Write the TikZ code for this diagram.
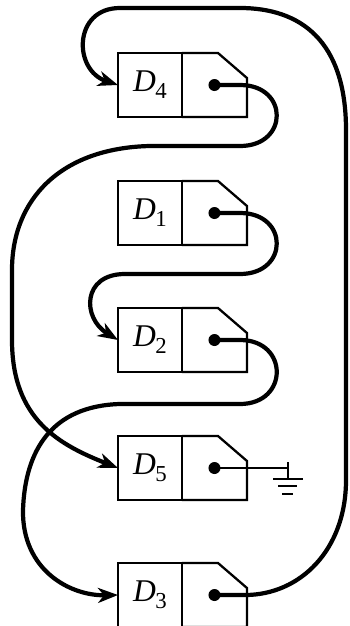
\documentclass[tikz,border=0pt]{standalone}
\usepackage{fontspec}
\setmainfont{Liberation Serif}
\usetikzlibrary{arrows.meta, positioning}

\tikzset{
  boxline/.style={line width=1.3pt},
  datafield/.style={draw, boxline, rectangle, minimum width=1.28cm, minimum height=1.28cm,
    inner sep=0pt, outer sep=0pt, font=\fontsize{18}{20}\selectfont},
  ptrfield/.style={rectangle, minimum width=1.3cm, minimum height=1.28cm, inner sep=0pt, outer sep=0pt},
  dot/.style={circle, fill, inner sep=0pt, minimum size=0.24cm},
  link/.style={line width=2.4pt, -{Stealth[length=0.4cm, width=0.3cm, inset=0.12cm]}},
  lastlink/.style={line width=1.2pt}
}
\newcommand{\dlabel}[1]{\textit{D}\kern-0.02em\raisebox{-0.5ex}{\fontsize{13}{13}\selectfont #1}}

\begin{document}
\begin{tikzpicture}[x=0.02cm, y=-0.02cm]
  \useasboundingbox (0,0) rectangle (349,626);

  % records of the list
  \foreach \n/\y in {4/85, 1/213, 2/340, 5/468, 3/595} {
    \node[datafield] (d\n) at (150,\y) {\dlabel{\n}};
    \node[ptrfield, right=0pt of d\n] (p\n) {};
    \draw[boxline] (p\n.north west) -- ([xshift=-0.58cm]p\n.north east)
      -- ([yshift=-0.5cm]p\n.north east) -- (p\n.south east) -- (p\n.south west);
    \node[dot] (c\n) at (p\n.center) {};
  }

  % pointers
  \draw[link] (c1.center) -- (240,213) .. controls (289,213) and (289,274) .. (240,274)
    -- (125,274) .. controls (82,274) and (82,318) .. (d2.west);
  \draw[link] (c2.center) -- (240,340) .. controls (289,340) and (289,404) .. (240,404)
    -- (120,404) .. controls (52,406) and (25,450) .. (23,510)
    .. controls (22,570) and (70,596) .. (d3.west);
  \draw[link] (c3.center) -- (245,595) .. controls (300,595) and (346,550) .. (346,480)
    -- (346,130) .. controls (346,40) and (300,8) .. (240,8)
    -- (120,8) .. controls (73,8) and (73,70) .. (d4.west);
  \draw[link] (c4.center) -- (240,85) .. controls (289,85) and (289,146) .. (240,146)
    -- (150,146) .. controls (60,148) and (12,200) .. (12,270)
    -- (12,340) .. controls (12,420) and (60,445) .. (d5.west);

  % null pointer
  \coordinate (gnd) at (288,468);
  \draw[lastlink] (c5.center) -- (gnd);
  \draw[line width=1.6pt] (gnd) ++(0,-6) -- ++(0,17);
  \draw[lastlink] (273,479) -- (303,479);
  \draw[lastlink] (278,486) -- (297,486);
  \draw[lastlink] (282,494) -- (293,494);
\end{tikzpicture}
\end{document}
